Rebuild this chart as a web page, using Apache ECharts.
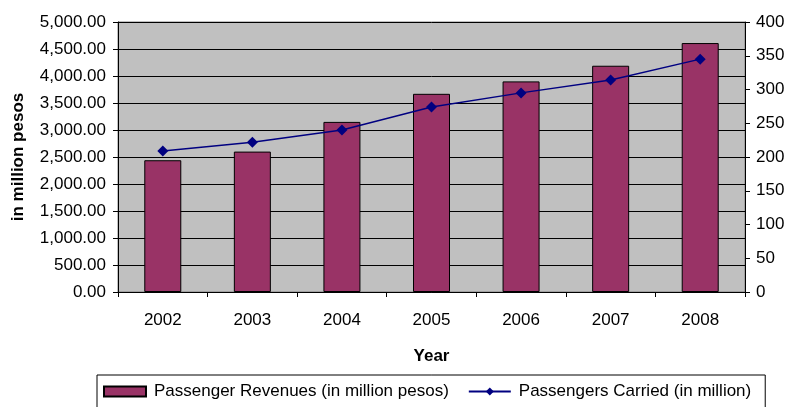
<!DOCTYPE html>
<html>
<head>
<meta charset="utf-8">
<script src="https://cdn.jsdelivr.net/npm/echarts@6/dist/echarts.min.js"></script>
<style>
  html, body { margin: 0; padding: 0; background: #fff; }
  #chart { width: 788px; height: 407px; }
</style>
</head>
<body>
<div id="chart"></div>
<script>
// data
var years = ['2002', '2003', '2004', '2005', '2006', '2007', '2008'];
var revenues = [2440, 2600, 3150, 3670, 3900, 4190, 4610];   // in million pesos
var passengers = [209, 222, 240, 274, 295, 314, 345];        // in million

var font = 'Liberation Sans';

var chart = echarts.init(document.getElementById('chart'));

var option = {
  animation: false,
  textStyle: { fontFamily: font },
  grid: {
    left: 118, right: 43, top: 22, bottom: 115,
    outerBoundsMode: 'none',
    containLabel: false,
    show: true,
    backgroundColor: '#C0C0C0',
    borderColor: '#808080',
    borderWidth: 1
  },
  legend: {
    left: 97,
    top: 375,
    padding: [8, 14, 20, 6],
    itemGap: 19,
    itemWidth: 42,
    itemHeight: 10,
    borderColor: '#000',
    borderWidth: 1,
    textStyle: { fontFamily: font, fontSize: 17, color: '#000', padding: [0, 0, 0, 3] },
    data: [
      { name: 'Passenger Revenues (in million pesos)', icon: 'rect' },
      { name: 'Passengers Carried (in million)' }
    ]
  },
  xAxis: {
    type: 'category',
    data: years,
    name: 'Year',
    nameLocation: 'middle',
    nameGap: 56,
    nameTextStyle: { fontFamily: font, fontSize: 17, fontWeight: 'bold', color: '#000' },
    axisLine: { lineStyle: { color: '#000' } },
    axisTick: { show: true, length: 5, alignWithLabel: false, lineStyle: { color: '#000' } },
    axisLabel: { margin: 20, fontFamily: font, fontSize: 17, color: '#000' }
  },
  yAxis: [
    {
      type: 'value',
      min: 0, max: 5000, interval: 500,
      name: 'in million pesos',
      nameLocation: 'middle',
      nameRotate: 90,
      nameGap: 91,
      nameTextStyle: { fontFamily: font, fontSize: 17, fontWeight: 'bold', color: '#000' },
      axisLine: { show: true, lineStyle: { color: '#000' } },
      axisTick: { show: true, length: 5, lineStyle: { color: '#000' } },
      axisLabel: {
        margin: 12, fontFamily: font, fontSize: 17, color: '#000',
        formatter: function (v) {
          return v.toLocaleString('en-US', { minimumFractionDigits: 2, maximumFractionDigits: 2 });
        }
      },
      splitLine: { show: true, lineStyle: { color: '#000', width: 1 } }
    },
    {
      type: 'value',
      min: 0, max: 400, interval: 50,
      position: 'right',
      axisLine: { show: true, lineStyle: { color: '#000' } },
      axisTick: { show: true, length: 5, lineStyle: { color: '#000' } },
      axisLabel: { margin: 11, fontFamily: font, fontSize: 17, color: '#000' },
      splitLine: { show: false }
    }
  ],
  series: [
    {
      name: 'Passenger Revenues (in million pesos)',
      type: 'bar',
      data: revenues,
      yAxisIndex: 0,
      barWidth: 37,
      itemStyle: { color: '#993366', borderColor: '#000', borderWidth: 1 }
    },
    {
      name: 'Passengers Carried (in million)',
      type: 'line',
      data: passengers,
      yAxisIndex: 1,
      symbol: 'diamond',
      symbolSize: 11,
      lineStyle: { color: '#000080', width: 1.5 },
      itemStyle: { color: '#000080' }
    }
  ]
};

chart.setOption(option);
</script>
</body>
</html>
